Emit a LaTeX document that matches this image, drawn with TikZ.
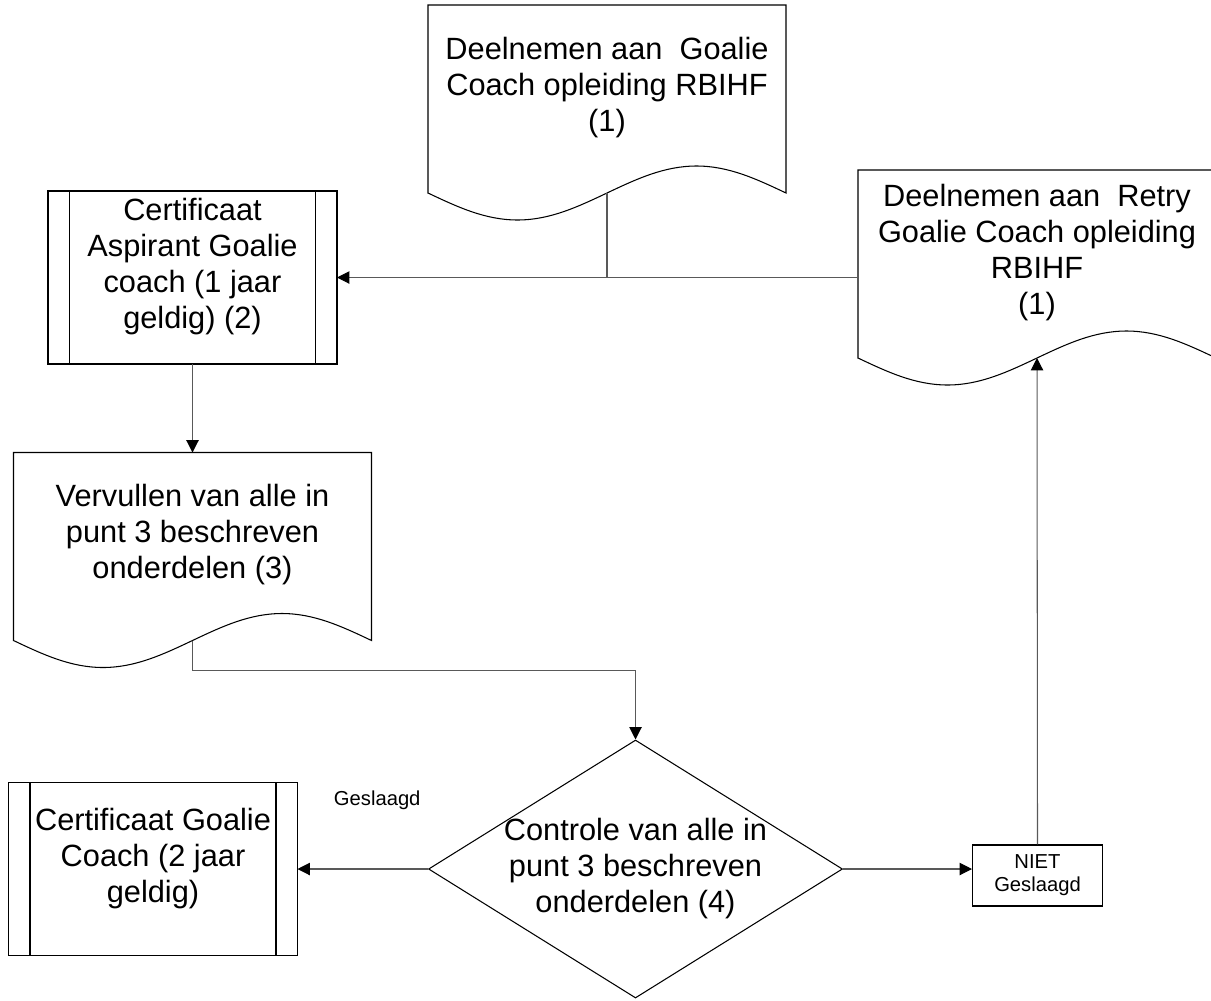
\documentclass[tikz,border=0pt]{standalone}
\usepackage{fontspec}
\setmainfont{Liberation Sans}
\usetikzlibrary{shapes,arrows.meta,positioning}

\newcommand{\klein}{\fontsize{11.5}{13}\selectfont}

\begin{document}
\begin{tikzpicture}[auto, node distance=2cm, >={Triangle[length=7pt,width=7pt,color=black]},
    line width=0.6pt, font=\fontsize{17.5}{20.5}\selectfont,
    doc/.style={rectangle, minimum width=7.16cm, minimum height=3.76cm, outer sep=0pt, align=center, text depth=0.6cm},
    proc/.style={draw, rectangle, minimum width=5.78cm, minimum height=3.46cm, outer sep=0pt, align=center, text depth=0.55cm},
    pijl/.style={->, draw=black!65},
    lijn/.style={draw=black!65}]

        % Kader
        \useasboundingbox (0,0) rectangle (24.22,-20);
        \clip (0,0) rectangle (24.22,-20);

        % Knopen
        \node [proc] (cert1) at (3.85,-5.55) {Certificaat\\Aspirant Goalie\\coach (1 jaar\\geldig) (2)};
        \node [doc, right of=cert1, node distance=8.29cm, yshift=3.57cm] (goalie) {Deelnemen aan~ Goalie\\Coach opleiding RBIHF\\(1)};
        \node [doc, right of=goalie, node distance=8.6cm, yshift=-3.3cm] (retry) {Deelnemen aan~ Retry\\Goalie Coach opleiding\\RBIHF\\(1)};
        \node [doc, below of=cert1, node distance=5.38cm] (verv) {Vervullen van alle in\\punt 3 beschreven\\onderdelen (3)};
        \node [draw, diamond, aspect=1.6, inner sep=-0.2cm, minimum width=8.28cm, minimum height=5.16cm, align=center, right of=verv, node distance=8.86cm, yshift=-6.45cm] (controle) {Controle van alle in\\punt 3 beschreven\\onderdelen (4)};
        \node [proc, left of=controle, node distance=9.65cm] (cert2) {Certificaat Goalie\\Coach (2 jaar\\geldig)};
        \node [draw, rectangle, minimum width=2.6cm, minimum height=1.22cm, align=center, font=\klein, right of=controle, node distance=8.04cm, yshift=-0.13cm] (niet) {NIET\\Geslaagd};

        % Vormen
        \foreach \n in {goalie,retry,verv}
            \draw (\n.south west) -- (\n.north west) -- (\n.north east) -- (\n.south east)
                sin ++(-1.79cm,0.54cm) cos ++(-1.79cm,-0.54cm) sin ++(-1.79cm,-0.54cm) cos ++(-1.79cm,0.54cm) -- cycle;
        \foreach \n in {cert1,cert2} {
            \draw ([xshift=0.43cm]\n.north west) -- ([xshift=0.43cm]\n.south west);
            \draw ([xshift=-0.43cm]\n.north east) -- ([xshift=-0.43cm]\n.south east);
        }

        % Verbindingen
        \draw [pijl] (retry.west |- cert1.east) -- (cert1.east);
        \draw [lijn] (goalie.south) -- (goalie.south |- cert1.east);
        \draw [pijl] (cert1.south) -- (verv.north);
        \draw [pijl] (verv.south) -- ++(0,-0.6cm) -| (controle.north);
        \draw [pijl] (controle.west) -- (cert2.east) node[midway, above=1.06cm, xshift=0.29cm, font=\klein] {Geslaagd};
        \draw [pijl] (controle.east) -- (controle.east -| niet.west);
        \draw [pijl] (niet.north) -- (retry.south);

\end{tikzpicture}
\end{document}
